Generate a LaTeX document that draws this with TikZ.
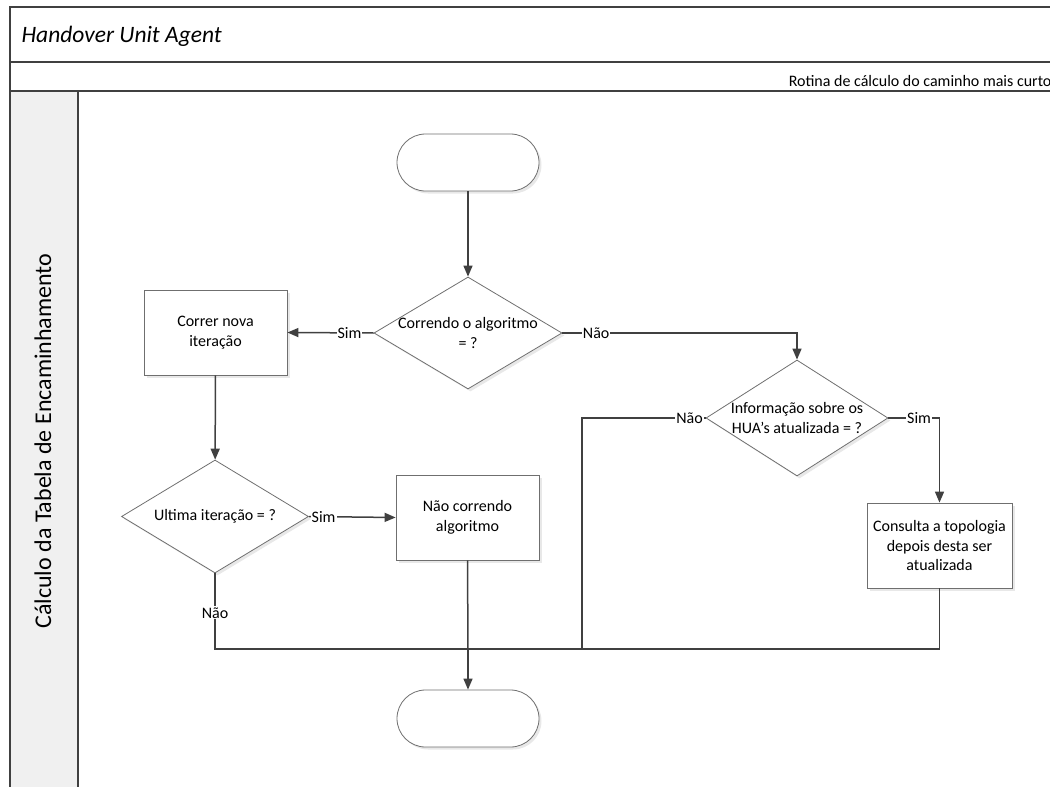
\documentclass[tikz,border=0pt]{standalone}
\usepackage{fontspec}
\setmainfont{Carlito}
\usetikzlibrary{arrows.meta,shadows,calc,shapes.geometric}
\definecolor{ln}{HTML}{404040}
\definecolor{sh}{HTML}{6F6F6F}
\definecolor{lane}{HTML}{F0F0F0}
\begin{document}
\begin{tikzpicture}[x=1pt,y=-1pt,
  every node/.style={font=\fontsize{16}{19.5}\selectfont, text=black},
  shp/.style={draw=sh, line width=0.8pt, fill=white, drop shadow={opacity=0.18, shadow xshift=2.5pt, shadow yshift=-2.5pt}},
  term/.style={shp, rectangle, rounded corners=28.5pt, minimum width=142pt, minimum height=57pt},
  proc/.style={shp, rectangle, minimum width=143pt, minimum height=85pt, align=center, inner sep=0pt},
  dec/.style={shp, diamond, inner sep=0pt, minimum width=188pt, minimum height=112pt},
  conn/.style={draw=ln, line width=1.5pt},
  arr/.style={conn, -{Triangle[length=11pt,width=9pt]}},
  lbl/.style={fill=white, inner sep=1pt},
  frame/.style={draw=ln, line width=1.4pt}
]
\useasboundingbox (0,0) rectangle (1050,787);
\clip (0,0) rectangle (1050,787);

% frame
\fill[lane] (10,91) rectangle (78,800);
\draw[frame] (10,800) -- (10,7) -- (1060,7);
\draw[frame] (10,62) -- (1060,62);
\draw[frame] (10,91) -- (1060,91);
\draw[frame] (78,91) -- (78,800);

\node[anchor=base west, font=\fontsize{23.5}{28}\selectfont\itshape] (title) at (18,42) {Handover Unit Agent};
\node[anchor=base east] (rot) at (1055,86) {Rotina de cálculo do caminho mais curto};
\node[rotate=90, font=\fontsize{24}{28}\selectfont] (lanelbl) at (43,441) {Cálculo da Tabela de Encaminhamento};

% shapes
\node[term] (start) at (468,162.5) {};
\node[dec] (d1) at (468,333) {};
\node[align=center] (d1t) at (468,333) {Correndo o algoritmo\\= ?};
\node[proc] (p1) at (215.5,332.5) {Correr nova\\iteração};
\node[dec, minimum width=182pt, minimum height=116pt] (d2) at (797,418) {};
\node[align=center] (d2t) at (797,418) {Informação sobre os\\HUA’s atualizada = ?};
\node[proc, minimum width=145pt] (p3) at (939.5,545.5) {Consulta a topologia\\depois desta ser\\atualizada};
\node[dec, minimum width=187pt, minimum height=113pt] (d3) at (215,516.5) {};
\node (d3t) at (215,516.5) {Ultima iteração = ?};
\node[proc] (p2) at (467.5,517.5) {Não correndo\\algoritmo};
\node[term] (end) at (468,718.5) {};
\coordinate (m) at (468,649);
\coordinate (nj) at (582,649);

% connectors
\draw[arr] (start) -- (d1);
\draw[arr] (d1.west) -- node[lbl,pos=0.28] (l1) {Sim} (p1.east);
\draw[arr] (d1.east) -| node[lbl,pos=0.072] (l2) {Não} (d2.north);
\draw[conn] (d2.west) -| node[lbl,pos=0.065] (l3) {Não} (nj) -- (m);
\draw[arr] (d2.east) -| node[lbl,pos=0.3] (l4) {Sim} (p3.north);
\draw[conn] (p3.south) |- (m);
\draw[arr] (p1) -- (d3);
\draw[arr] (d3.east) -- node[lbl,pos=0.17] (l5) {Sim} (p2.west);
\draw[conn] (d3.south) |- node[lbl,pos=0.26] (l6) {Não} (m);
\draw[conn] (p2.south) -- (m);
\draw[arr] (m) -- (end.north);
\end{tikzpicture}
\end{document}
